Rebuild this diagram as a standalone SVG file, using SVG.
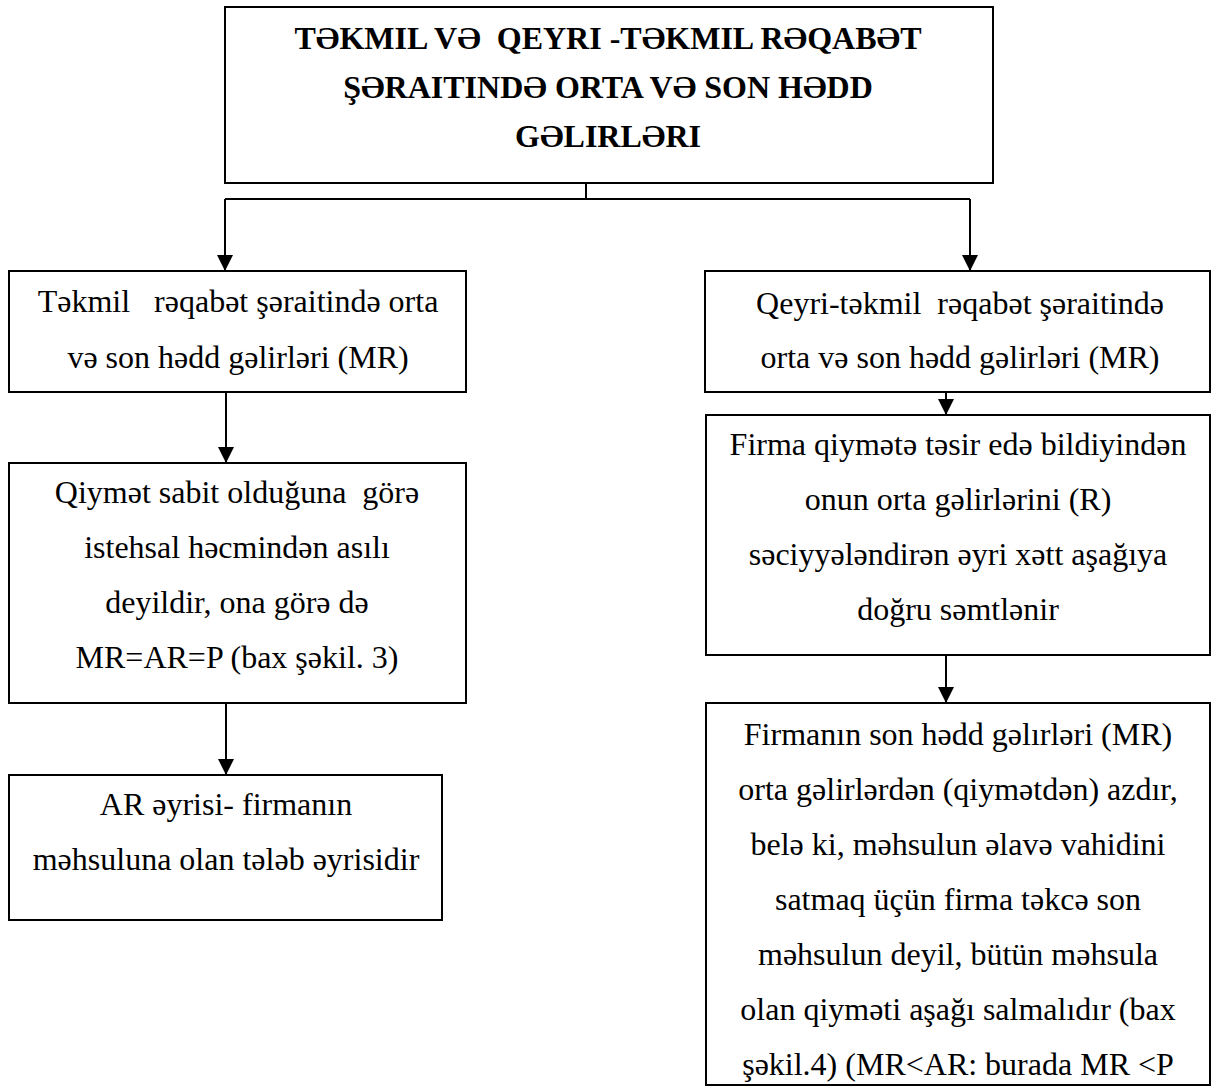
<svg xmlns="http://www.w3.org/2000/svg" width="1214" height="1089" viewBox="0 0 1214 1089">
<style>
.box{fill:#fff;stroke:#000;stroke-width:2}
.t{font-family:"Liberation Serif","DejaVu Serif",serif;font-size:32px;fill:#000;text-anchor:middle;white-space:pre}
.b{font-weight:bold}
.c{fill:none;stroke:#000;stroke-width:2}
</style>
<defs>
<marker id="ah" viewBox="0 0 16 16" refX="16" refY="8" markerWidth="16" markerHeight="16" markerUnits="userSpaceOnUse" orient="auto">
<path d="M0,0 L16,8 L0,16 Z" fill="#000"/>
</marker>
<clipPath id="clipR3"><rect x="707" y="704" width="502" height="380"/></clipPath>
</defs>
<rect width="1214" height="1089" fill="#fff"/>
<g id="connectors">
<path class="c" d="M586,183 V199 M225,199 H970"/>
<path class="c" d="M225,199 V271" marker-end="url(#ah)"/>
<path class="c" d="M970,199 V271" marker-end="url(#ah)"/>
<path class="c" d="M226,392 V463" marker-end="url(#ah)"/>
<path class="c" d="M226,703 V775" marker-end="url(#ah)"/>
<path class="c" d="M946,392 V415" marker-end="url(#ah)"/>
<path class="c" d="M946,655 V703" marker-end="url(#ah)"/>
</g>
<g id="top">
<rect class="box" x="225" y="7" width="768" height="176"/>
<text class="t b" x="608" y="49">TƏKMIL VƏ  QEYRI -TƏKMIL RƏQABƏT</text>
<text class="t b" x="608" y="98">ŞƏRAITINDƏ ORTA VƏ SON HƏDD</text>
<text class="t b" x="608" y="147">GƏLIRLƏRI</text>
</g>
<g id="left1">
<rect class="box" x="9" y="271" width="457" height="121"/>
<text class="t" x="238" y="312">Təkmil   rəqabət şəraitində orta</text>
<text class="t" x="238" y="368">və son hədd gəlirləri (MR)</text>
</g>
<g id="left2">
<rect class="box" x="9" y="463" width="457" height="240"/>
<text class="t" x="237" y="503">Qiymət sabit olduğuna  görə</text>
<text class="t" x="237" y="558">istehsal həcmindən asılı</text>
<text class="t" x="237" y="613">deyildir, ona görə də</text>
<text class="t" x="237" y="668">MR=AR=P (bax şəkil. 3)</text>
</g>
<g id="left3">
<rect class="box" x="9" y="775" width="433" height="145"/>
<text class="t" x="226" y="815">AR əyrisi- firmanın</text>
<text class="t" x="226" y="870">məhsuluna olan tələb əyrisidir</text>
</g>
<g id="right1">
<rect class="box" x="705" y="271" width="505" height="121"/>
<text class="t" x="960" y="314">Qeyri-təkmil  rəqabət şəraitində</text>
<text class="t" x="960" y="368">orta və son hədd gəlirləri (MR)</text>
</g>
<g id="right2">
<rect class="box" x="706" y="415" width="504" height="240"/>
<text class="t" x="958" y="455">Firma qiymətə təsir edə bildiyindən</text>
<text class="t" x="958" y="510">onun orta gəlirlərini (R)</text>
<text class="t" x="958" y="565">səciyyələndirən əyri xətt aşağıya</text>
<text class="t" x="958" y="620">doğru səmtlənir</text>
</g>
<g id="right3">
<rect class="box" x="706" y="703" width="504" height="382"/>
<g clip-path="url(#clipR3)">
<text class="t" x="958" y="745">Firmanın son hədd gəlırləri (MR)</text>
<text class="t" x="958" y="800">orta gəlirlərdən (qiymətdən) azdır,</text>
<text class="t" x="958" y="855">belə ki, məhsulun əlavə vahidini</text>
<text class="t" x="958" y="910">satmaq üçün firma təkcə son</text>
<text class="t" x="958" y="965">məhsulun deyil, bütün məhsula</text>
<text class="t" x="958" y="1020">olan qiyməti aşağı salmalıdır (bax</text>
<text class="t" x="958" y="1075">şəkil.4) (MR&lt;AR: burada MR &lt;P</text>
</g>
</g>
</svg>
